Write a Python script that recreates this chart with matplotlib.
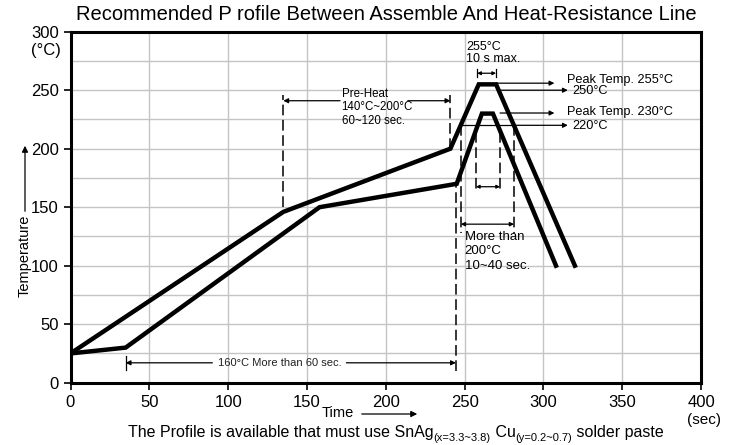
import numpy as np
import matplotlib
matplotlib.use("Agg")
import matplotlib.pyplot as plt

plt.rcParams.update({
    "font.family": ["Liberation Sans", "DejaVu Sans"],
})

# profile curves (time in s, temperature in °C)
upper_t = [0, 135, 241, 259, 270, 320]
upper_T = [25, 146, 200, 255, 255, 100]
lower_t = [0, 35, 158, 245, 261, 268, 308]
lower_T = [25, 30, 150, 170, 230, 230, 100]

x_ticks = [0, 50, 100, 150, 200, 250, 300, 350, 400]
y_ticks = [0, 50, 100, 150, 200, 250, 300]

W, H = 731, 445
fig = plt.figure(figsize=(W / 100, H / 100), dpi=100)
ax = fig.add_axes([70.5 / W, 1 - 382.7 / H, (701 - 70.5) / W, (382.7 - 31.7) / H])

ax.set_xlim(0, 400)
ax.set_ylim(0, 300)
ax.set_xticks(x_ticks)
ax.set_yticks(y_ticks)
ax.set_yticks(np.arange(25, 300, 50), minor=True)
ax.grid(True, which="both", color="#c4c4c4", lw=1.0)
ax.tick_params(axis="y", which="minor", length=0)
ax.tick_params(axis="both", which="major", length=5, width=1.2, labelsize=12)
ax.tick_params(axis="x", pad=4)
ax.set_axisbelow(True)
for sp in ax.spines.values():
    sp.set_linewidth(2.2)

ax.plot(upper_t, upper_T, color="black", lw=3.2, solid_joinstyle="miter", zorder=5)
ax.plot(lower_t, lower_T, color="black", lw=3.2, solid_joinstyle="miter", zorder=5)

DASH = dict(color="black", lw=1.1, ls=(0, (7, 3)), zorder=4)
THIN = dict(color="black", lw=0.9, zorder=4)


def arrow(x0, x1, y, style="-|>"):
    ax.annotate("", xy=(x1, y), xytext=(x0, y),
                arrowprops=dict(arrowstyle=style, lw=0.9, color="black",
                                mutation_scale=7, shrinkA=0, shrinkB=0),
                zorder=4)


# pre-heat
ax.plot([135, 135], [150, 246], **DASH)
ax.plot([241, 241], [200, 246], **DASH)
arrow(171, 135, 241)
arrow(214, 241, 241)
ax.text(172, 252, "Pre-Heat\n140°C~200°C\n60~120 sec.", fontsize=8.3,
        va="top", ha="left", linespacing=1.15)

# 160°C more than 60 sec.
ax.plot([35, 35], [11, 23], **THIN)
ax.plot([244.5, 244.5], [10, 170], **DASH)
arrow(90, 35, 17)
arrow(175, 244.5, 17)
ax.text(132.5, 17, "160°C More than 60 sec.", fontsize=8, ha="center",
        va="center", color="#222222")

# 10 s max. at 255°C
ax.plot([258, 258], [261, 268], **THIN)
ax.plot([270, 270], [261, 268], **THIN)
ax.annotate("", xy=(258, 264.5), xytext=(270, 264.5),
            arrowprops=dict(arrowstyle="<|-|>", lw=0.9, color="black",
                            mutation_scale=5, shrinkA=0, shrinkB=0))
ax.text(251, 292, "255°C\n10 s max.", fontsize=9, va="top", ha="left",
        linespacing=1.0)

# right side peak labels
arrow(270, 307, 256)
arrow(271, 315.5, 250)
arrow(272.5, 307, 230.5)
ax.plot([247.6, 281.4], [220, 220], **THIN)
arrow(281, 315.5, 220)
ax.text(315, 258.5, "Peak Temp. 255°C", fontsize=9.2, va="center", ha="left")
ax.text(318.5, 249.5, "250°C", fontsize=9.2, va="center", ha="left")
ax.text(315, 231.5, "Peak Temp. 230°C", fontsize=9.2, va="center", ha="left")
ax.text(318.5, 219.5, "220°C", fontsize=9.2, va="center", ha="left")

# more than 200°C 10~40 sec.
ax.plot([247.6, 247.6], [220, 128], **DASH)
ax.plot([281.4, 281.4], [220, 128], **DASH)
ax.annotate("", xy=(247.6, 135.5), xytext=(281.4, 135.5),
            arrowprops=dict(arrowstyle="<|-|>", lw=0.9, color="black",
                            mutation_scale=6, shrinkA=0, shrinkB=0))
ax.plot([257.2, 257.2], [214, 162], **DASH)
ax.plot([272.5, 272.5], [214, 162], **DASH)
ax.annotate("", xy=(257.2, 167.5), xytext=(272.5, 167.5),
            arrowprops=dict(arrowstyle="<|-|>", lw=0.9, color="black",
                            mutation_scale=5, shrinkA=0, shrinkB=0))
ax.text(250, 130, "More than\n200°C\n10~40 sec.", fontsize=9.5, va="top",
        ha="left", linespacing=1.3)

# outside texts
fig.text(386 / W, 1 - 14 / H,
         "Recommended P rofile Between Assemble And Heat-Resistance Line",
         fontsize=14.5, ha="center", va="center")
fig.text(61 / W, 1 - 50 / H, "(°C)", fontsize=12, ha="right", va="center")
fig.text(25 / W, 1 - 256 / H, "Temperature", fontsize=10.5, rotation=90,
         ha="center", va="center")
fig.add_artist(matplotlib.patches.FancyArrowPatch(
    (25 / W, 1 - 214 / H), (25 / W, 1 - 143 / H), transform=fig.transFigure,
    arrowstyle="-|>", mutation_scale=9, lw=0.9, color="black"))
fig.text(338 / W, 1 - 413 / H, "Time", fontsize=10.5, ha="center", va="center")
fig.add_artist(matplotlib.patches.FancyArrowPatch(
    (359 / W, 1 - 414 / H), (420 / W, 1 - 414 / H), transform=fig.transFigure,
    arrowstyle="-|>", mutation_scale=9, lw=0.9, color="black"))
fig.text(704 / W, 1 - 420 / H, "(sec)", fontsize=11, ha="center", va="center")

# bottom note with subscripts, laid out piece by piece
pieces = [("The Profile is available that must use SnAg", 11.5, 0),
          ("(x=3.3~3.8)", 8, -4),
          (" Cu", 11.5, 0),
          ("(y=0.2~0.7)", 8, -4),
          (" solder paste", 11.5, 0)]
renderer = fig.canvas.get_renderer()
base_y = H - 437
arts = []
for txt, fs, dy in pieces:
    t = fig.text(0, (base_y + dy) / H, txt, fontsize=fs, ha="left",
                 va="baseline")
    arts.append(t)
widths = [a.get_window_extent(renderer).width for a in arts]
x = 396 - sum(widths) / 2
for a, w in zip(arts, widths):
    a.set_x(x / W)
    x += w

fig.savefig("out.png", dpi=100)
